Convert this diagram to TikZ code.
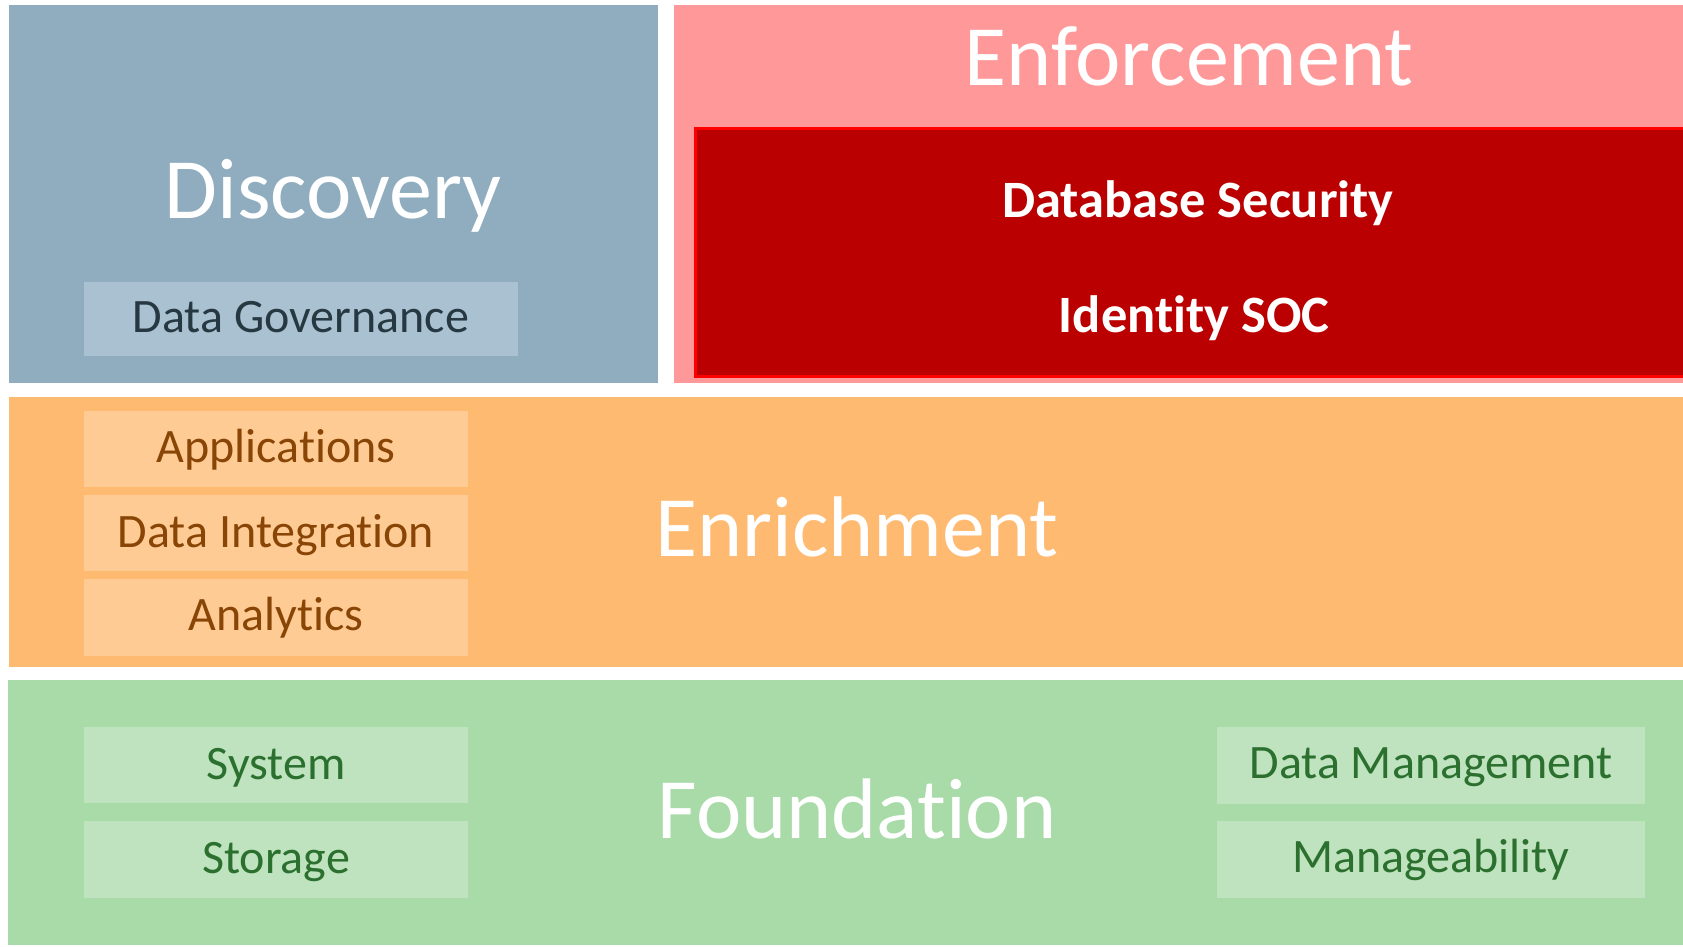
\documentclass[tikz,border=0pt]{standalone}
\usepackage{fontspec}
\setmainfont[Ligatures={NoCommon}]{Carlito}
\definecolor{discfill}{HTML}{8FADBF}
\definecolor{discsub}{HTML}{A9C1D0}
\definecolor{enffill}{HTML}{FF9999}
\definecolor{redfill}{HTML}{BA0000}
\definecolor{redline}{HTML}{FF0000}
\definecolor{orfill}{HTML}{FFBA72}
\definecolor{orsub}{HTML}{FFCB94}
\definecolor{grfill}{HTML}{A8DBA8}
\definecolor{grsub}{HTML}{BEE3BE}
\definecolor{darktext}{HTML}{263841}
\definecolor{browntext}{HTML}{884505}
\definecolor{greentext}{HTML}{2B702F}
\begin{document}
\begin{tikzpicture}[x=1pt,y=-1pt,
  blk/.style={rectangle, draw=none, inner sep=0pt, outer sep=0pt, anchor=north west},
  lbl/.style={inner sep=0pt, outer sep=0pt, anchor=base},
  big/.style={lbl, text=white, font=\fontsize{86}{86}\selectfont},
  bld/.style={lbl, text=white, font=\fontsize{52.5}{52.5}\selectfont\bfseries},
  sml/.style={lbl, font=\fontsize{48}{48}\selectfont}]
\useasboundingbox (0,0) rectangle (1683,946);
\fill[white] (0,0) rectangle (1683,946);
% layers
\node[blk, fill=discfill, minimum width=649pt, minimum height=378pt] (disc) at (9,5) {};
\node[blk, fill=enffill, minimum width=1009pt, minimum height=378pt] (enf) at (674,5) {};
\node[blk, fill=redfill, draw=redline, line width=3pt, minimum width=995pt, minimum height=248pt] (red) at (695.5,128.5) {};
\node[blk, fill=orfill, minimum width=1674pt, minimum height=270pt] (enr) at (9,397) {};
\node[blk, fill=grfill, minimum width=1675pt, minimum height=265pt] (fnd) at (8,680) {};
% sub boxes
\node[blk, fill=discsub, minimum width=434pt, minimum height=74pt] (gov) at (84,282) {};
\node[blk, fill=orsub, minimum width=384pt, minimum height=76pt] (app) at (84,411) {};
\node[blk, fill=orsub, minimum width=384pt, minimum height=76pt] (dint) at (84,495) {};
\node[blk, fill=orsub, minimum width=384pt, minimum height=77pt] (ana) at (84,579) {};
\node[blk, fill=grsub, minimum width=384pt, minimum height=76pt] (sys) at (84,727) {};
\node[blk, fill=grsub, minimum width=384pt, minimum height=77pt] (sto) at (84,821) {};
\node[blk, fill=grsub, minimum width=428pt, minimum height=77pt] (dman) at (1217,727) {};
\node[blk, fill=grsub, minimum width=428pt, minimum height=77pt] (mgb) at (1217,821) {};
% titles
\node[big] (tdisc) at (333,218) {Discovery};
\node[big] (tenf) at (1189,85) {Enforcement};
\node[big] (tenr) at (857,556) {Enrichment};
\node[big] (tfnd) at (857,838) {Foundation};
\node[bld] (tdbs) at (1198,217) {Database Security};
\node[bld] (tids) at (1194,332) {Identity SOC};
% labels
\node[sml, text=darktext] (tgov) at (gov.center |- 0,332) {Data Governance};
\node[sml, text=browntext] (tapp) at (app.center |- 0,462) {Applications};
\node[sml, text=browntext] (tdint) at (dint.center |- 0,547) {Data Integration};
\node[sml, text=browntext] (tana) at (ana.center |- 0,630) {Analytics};
\node[sml, text=greentext] (tsys) at (sys.center |- 0,779) {System};
\node[sml, text=greentext] (tsto) at (sto.center |- 0,873) {Storage};
\node[sml, text=greentext] (tdman) at (dman.center |- 0,778) {Data Management};
\node[sml, text=greentext] (tmgb) at (mgb.center |- 0,872) {Manageability};
\end{tikzpicture}
\end{document}
